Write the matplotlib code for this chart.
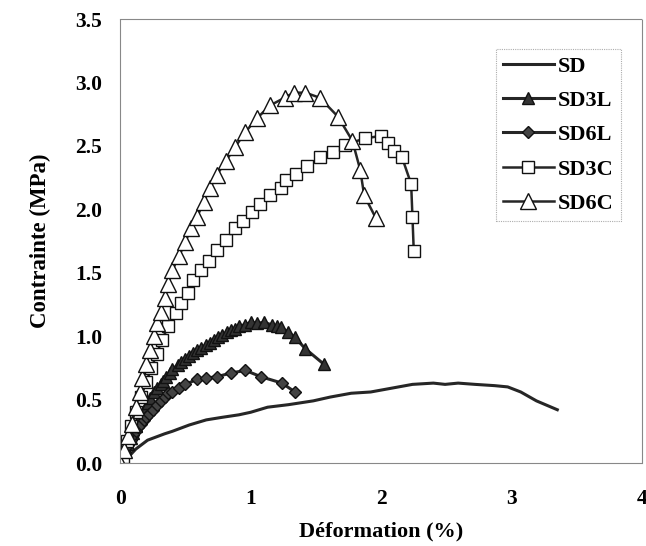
import numpy as np
import matplotlib
matplotlib.use('Agg')
import matplotlib.pyplot as plt

plt.rcParams['font.family'] = ['Liberation Serif', 'DejaVu Serif']
plt.rcParams['font.weight'] = 'bold'

# SD: matrice seule (ligne sans marqueurs)
sd_x = [0.02, 0.12, 0.21, 0.34, 0.40, 0.53, 0.66, 0.78, 0.91, 1.00, 1.13, 1.29, 1.48, 1.61,
        1.77, 1.92, 2.08, 2.24, 2.40, 2.49, 2.59, 2.72, 2.87, 2.97, 3.07, 3.19, 3.35]
sd_y = [0.00, 0.11, 0.18, 0.23, 0.25, 0.30, 0.34, 0.36, 0.38, 0.40, 0.44, 0.46, 0.49, 0.52,
        0.55, 0.56, 0.59, 0.62, 0.63, 0.62, 0.63, 0.62, 0.61, 0.60, 0.56, 0.49, 0.42]

sd3l_x = [0.02, 0.04, 0.06, 0.08, 0.10, 0.12, 0.14, 0.16, 0.18, 0.21, 0.23, 0.26, 0.28, 0.31,
          0.33, 0.35, 0.38, 0.40, 0.44, 0.47, 0.50, 0.53, 0.56, 0.59, 0.62, 0.66, 0.69, 0.72,
          0.75, 0.78, 0.82, 0.85, 0.88, 0.91, 0.96, 1.00, 1.05, 1.10, 1.16, 1.20, 1.23, 1.29,
          1.34, 1.42, 1.56]
sd3l_y = [0.04, 0.10, 0.15, 0.20, 0.24, 0.29, 0.33, 0.38, 0.42, 0.47, 0.51, 0.56, 0.59, 0.62,
          0.65, 0.68, 0.71, 0.74, 0.77, 0.80, 0.82, 0.84, 0.87, 0.89, 0.91, 0.93, 0.95, 0.97,
          0.99, 1.01, 1.03, 1.05, 1.06, 1.08, 1.09, 1.11, 1.10, 1.11, 1.09, 1.08, 1.07, 1.03,
          0.99, 0.90, 0.78]

sd6l_x = [0.02, 0.04, 0.06, 0.08, 0.10, 0.12, 0.14, 0.16, 0.18, 0.20, 0.22, 0.25, 0.28, 0.31,
          0.34, 0.37, 0.40, 0.45, 0.50, 0.59, 0.66, 0.74, 0.85, 0.96, 1.08, 1.24, 1.34]
sd6l_y = [0.04, 0.09, 0.14, 0.18, 0.22, 0.25, 0.28, 0.31, 0.34, 0.36, 0.39, 0.42, 0.46, 0.49,
          0.52, 0.55, 0.56, 0.59, 0.62, 0.66, 0.67, 0.68, 0.71, 0.73, 0.68, 0.63, 0.56]

sd3c_x = [0.00, 0.02, 0.05, 0.08, 0.12, 0.16, 0.20, 0.24, 0.28, 0.32, 0.37, 0.43, 0.47, 0.52,
          0.56, 0.62, 0.68, 0.74, 0.81, 0.88, 0.94, 1.01, 1.07, 1.15, 1.23, 1.27, 1.35, 1.43,
          1.53, 1.63, 1.72, 1.88, 2.00, 2.05, 2.10, 2.16, 2.23, 2.24, 2.25]
sd3c_y = [0.00, 0.05, 0.17, 0.29, 0.40, 0.52, 0.64, 0.75, 0.86, 0.97, 1.08, 1.18, 1.26, 1.34,
          1.44, 1.52, 1.59, 1.68, 1.76, 1.85, 1.91, 1.98, 2.04, 2.11, 2.17, 2.23, 2.28, 2.34,
          2.41, 2.45, 2.51, 2.56, 2.58, 2.52, 2.46, 2.41, 2.20, 1.94, 1.67]

sd6c_x = [0.00, 0.03, 0.06, 0.09, 0.12, 0.15, 0.17, 0.20, 0.23, 0.26, 0.28, 0.31, 0.34, 0.37,
          0.40, 0.45, 0.50, 0.54, 0.59, 0.64, 0.69, 0.74, 0.81, 0.88, 0.96, 1.05, 1.15, 1.26,
          1.33, 1.42, 1.53, 1.67, 1.78, 1.84, 1.87, 1.96]
sd6c_y = [0.00, 0.10, 0.21, 0.31, 0.44, 0.56, 0.67, 0.78, 0.89, 1.00, 1.10, 1.19, 1.30, 1.41,
          1.52, 1.63, 1.74, 1.85, 1.94, 2.06, 2.17, 2.27, 2.38, 2.49, 2.61, 2.72, 2.82, 2.88,
          2.92, 2.92, 2.88, 2.73, 2.54, 2.31, 2.11, 1.93]

fig = plt.figure(figsize=(6.46, 5.46), dpi=100)
ax = fig.add_axes([0.186, 0.152, 0.808, 0.813])

lc = '#262626'
ax.plot(sd_x, sd_y, '-', color=lc, lw=2.2, label='SD')
ax.plot(sd3l_x, sd3l_y, '-', color=lc, lw=2.2, marker='^', ms=8,
        mfc='#333333', mec='#111111', label='SD3L')
ax.plot(sd6l_x, sd6l_y, '-', color=lc, lw=2.2, marker='D', ms=6,
        mfc='#444444', mec='#111111', label='SD6L')
ax.plot(sd3c_x, sd3c_y, '-', color=lc, lw=1.8, marker='s', ms=8,
        mfc='white', mec='#111111', mew=1.0, label='SD3C')
ax.plot(sd6c_x, sd6c_y, '-', color=lc, lw=1.8, marker='^', ms=12,
        mfc='white', mec='#111111', mew=1.0, label='SD6C')

ax.set_xlim(0, 4)
ax.set_ylim(0, 3.5)
ax.set_xticks([0, 1, 2, 3, 4])
ax.set_yticks(np.arange(0, 3.51, 0.5))
ax.yaxis.set_major_formatter(plt.FormatStrFormatter('%.1f'))
ax.tick_params(axis='x', length=0, pad=19, labelsize=15.5)
ax.tick_params(axis='y', length=0, pad=13, labelsize=15.5)
for s in ax.spines.values():
    s.set_color('#888888')
    s.set_linewidth(0.8)
    s.set_linestyle((0, (1, 1)))

ax.set_xlabel('Déformation (%)', fontsize=16, fontweight='bold', labelpad=9)
ax.set_ylabel('Contrainte (MPa)', fontsize=16.5, fontweight='bold', labelpad=17)

# légende encadrée en haut à droite
leg = ax.legend(loc='upper left', bbox_to_anchor=(0.72, 0.932), fontsize=16,
                frameon=True, fancybox=False, edgecolor='#999999',
                handlelength=2.3, handletextpad=0.2, labelspacing=0.62,
                borderpad=0.3, borderaxespad=0)
leg.get_frame().set_linewidth(0.8)
leg.get_frame().set_linestyle((0, (1, 1)))

plt.savefig('out.png', dpi=100)
plt.close()
